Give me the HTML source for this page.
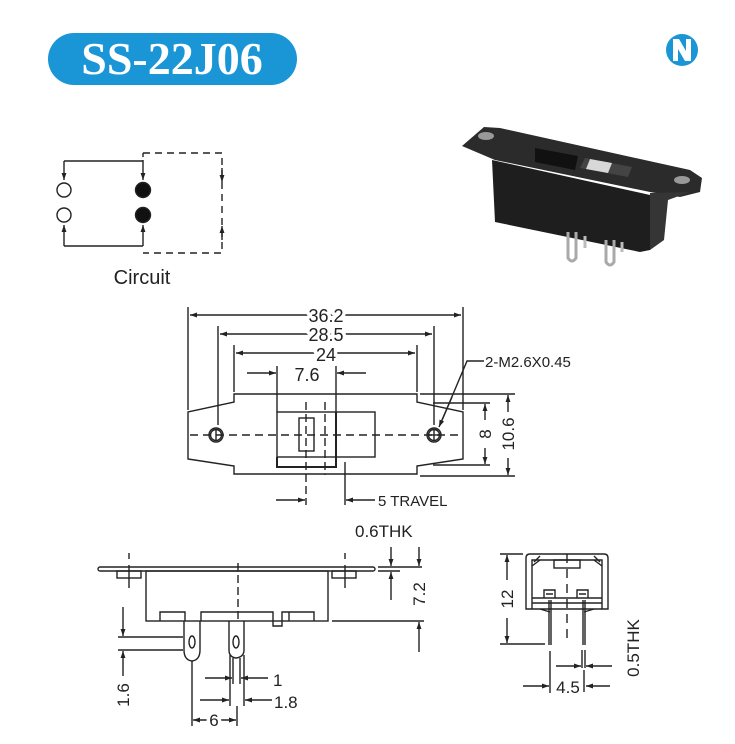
<!DOCTYPE html>
<html><head><meta charset="utf-8"><style>
html,body{margin:0;padding:0;background:#fff;}
svg{display:block;}
text{font-family:"Liberation Sans",Arial,sans-serif;fill:#222;}
.h{stroke:#fff;stroke-width:7px;paint-order:stroke;stroke-linejoin:round;}
</style></head><body>
<svg width="735" height="744" viewBox="0 0 735 744" xmlns="http://www.w3.org/2000/svg">
<defs>
<marker id="a" viewBox="0 0 10 10" refX="10" refY="5" markerWidth="9" markerHeight="7" orient="auto-start-reverse" markerUnits="userSpaceOnUse"><path d="M0,1.5 L10,5 L0,8.5 Z" fill="#222"/></marker>
</defs>
<rect width="735" height="744" fill="#fff"/>
<!-- title -->
<rect x="48" y="33" width="249" height="52" rx="26" fill="#1a96d6"/>
<text x="172" y="74" text-anchor="middle" style="font-family:'Liberation Serif',serif;font-weight:bold;font-size:46px;fill:#fff">SS-22J06</text>
<!-- logo -->
<circle cx="682" cy="50" r="16" fill="#1a96d6"/>
<path d="M673,61 L673,39 L679,39 L686,51 L686,39 L691,39 L691,61 L685,61 L678,49 L678,61 Z" fill="#fff"/>

<g stroke="#222" stroke-width="1.4" fill="none">
<!-- circuit -->
<path d="M64,161 H143 M64,246 H143"/>
<line x1="64" y1="161" x2="64" y2="180" marker-end="url(#a)"/>
<line x1="143" y1="161" x2="143" y2="180" marker-end="url(#a)"/>
<line x1="64" y1="246" x2="64" y2="225" marker-end="url(#a)"/>
<line x1="143" y1="246" x2="143" y2="225" marker-end="url(#a)"/>
<path d="M143,153 H222 V253 H143" stroke-dasharray="7,5"/>
<line x1="143" y1="153" x2="143" y2="161" stroke-dasharray="4,3"/>
<line x1="222" y1="168" x2="222" y2="182" marker-end="url(#a)"/>
<line x1="222" y1="240" x2="222" y2="226" marker-end="url(#a)"/>
<circle cx="64" cy="190" r="7"/><circle cx="64" cy="215" r="7"/>
<circle cx="143" cy="190" r="7.5" fill="#111"/><circle cx="143" cy="215" r="7.5" fill="#111"/>

<!-- top view -->
<path d="M234,394 H417 V402 L463,412 V459 L417,466 V474 H234 V466 L188,459 V412 L234,402 Z"/>
<line x1="188" y1="307" x2="188" y2="410"/><line x1="463" y1="307" x2="463" y2="410"/>
<line x1="218" y1="326" x2="218" y2="425"/><line x1="434" y1="326" x2="434" y2="425"/>
<line x1="234" y1="345" x2="234" y2="392"/><line x1="417" y1="345" x2="417" y2="392"/>
<line x1="277" y1="366" x2="277" y2="412"/><line x1="336" y1="366" x2="336" y2="412"/>
<line x1="190" y1="315" x2="461" y2="315" marker-start="url(#a)" marker-end="url(#a)"/>
<line x1="220" y1="334" x2="432" y2="334" marker-start="url(#a)" marker-end="url(#a)"/>
<line x1="236" y1="353" x2="415" y2="353" marker-start="url(#a)" marker-end="url(#a)"/>
<line x1="247" y1="373" x2="276" y2="373" marker-end="url(#a)"/>
<line x1="366" y1="373" x2="337" y2="373" marker-end="url(#a)"/>
<line x1="190" y1="435" x2="462" y2="435" stroke-dasharray="8,5"/>
<rect x="277" y="412" width="98" height="45"/>
<path d="M277,457 V467 H336 V412" stroke-width="2"/>
<rect x="299" y="418" width="15" height="33"/>
<line x1="306" y1="402" x2="306" y2="505" stroke-dasharray="8,4"/>
<line x1="325" y1="402" x2="325" y2="475" stroke-dasharray="8,4"/>
<line x1="345" y1="462" x2="345" y2="505"/>
<line x1="276" y1="500" x2="305" y2="500" marker-end="url(#a)"/>
<line x1="375" y1="500" x2="346" y2="500" marker-end="url(#a)"/>
<circle cx="216" cy="435" r="7"/><circle cx="216" cy="435" r="5.5"/>
<circle cx="434" cy="435" r="7"/><circle cx="434" cy="435" r="5.5"/>
<line x1="216" y1="430" x2="216" y2="440"/><line x1="434" y1="430" x2="434" y2="440"/>
<line x1="429" y1="435" x2="439" y2="435"/>
<line x1="420" y1="394" x2="515" y2="394"/><line x1="420" y1="476" x2="515" y2="476"/>
<line x1="433" y1="403" x2="490" y2="403"/><line x1="433" y1="465" x2="490" y2="465"/>
<line x1="485" y1="420" x2="485" y2="404" marker-end="url(#a)"/>
<line x1="485" y1="448" x2="485" y2="464" marker-end="url(#a)"/>
<line x1="508" y1="412" x2="508" y2="395" marker-end="url(#a)"/>
<line x1="508" y1="458" x2="508" y2="475" marker-end="url(#a)"/>
<polyline points="484,361 467,361 440,425"/>
<line x1="452" y1="397" x2="439" y2="427" marker-end="url(#a)"/>

<!-- side view -->
<rect x="98" y="567" width="277" height="4" rx="2"/>
<rect x="146" y="571" width="182" height="50"/>
<rect x="117" y="571" width="24" height="7"/><rect x="332" y="571" width="24" height="7"/>
<line x1="129" y1="553" x2="129" y2="559"/><line x1="129" y1="565" x2="129" y2="588"/>
<line x1="345" y1="553" x2="345" y2="559"/><line x1="345" y1="565" x2="345" y2="588"/>
<line x1="238" y1="563" x2="238" y2="620" stroke-dasharray="8,4"/>
<path d="M160,621 V612 H185 V621 M201,621 V612 H273 V626 H282 V612 H314 V621 M289,612 V621"/>
<path d="M184,621 V650 Q184,660 192,661 Q200,660 200,650 V621"/>
<ellipse cx="192" cy="642" rx="3" ry="6"/>
<path d="M229,621 V650 Q229,657 236,658 Q244,657 244,650 V621"/>
<ellipse cx="236" cy="642" rx="3" ry="6"/>
<line x1="233" y1="658" x2="233" y2="684"/><line x1="240" y1="658" x2="240" y2="684"/>
<line x1="230" y1="655" x2="230" y2="706"/><line x1="244" y1="655" x2="244" y2="706"/>
<line x1="192" y1="661" x2="192" y2="726"/><line x1="237" y1="706" x2="237" y2="726"/>
<line x1="118" y1="637" x2="183" y2="637"/><line x1="118" y1="650" x2="183" y2="650"/>
<line x1="123" y1="607" x2="123" y2="636" marker-end="url(#a)"/>
<line x1="123" y1="676" x2="123" y2="651" marker-end="url(#a)"/>
<line x1="205" y1="678" x2="232" y2="678" marker-end="url(#a)"/>
<line x1="268" y1="678" x2="241" y2="678" marker-end="url(#a)"/>
<line x1="200" y1="700" x2="229" y2="700" marker-end="url(#a)"/>
<line x1="272" y1="700" x2="245" y2="700" marker-end="url(#a)"/>
<line x1="193" y1="720" x2="236" y2="720" marker-start="url(#a)" marker-end="url(#a)"/>
<line x1="378" y1="567" x2="422" y2="567"/><line x1="378" y1="571" x2="400" y2="571"/>
<line x1="332" y1="621" x2="424" y2="621"/>
<line x1="391" y1="547" x2="391" y2="566" marker-end="url(#a)"/>
<line x1="391" y1="600" x2="391" y2="572" marker-end="url(#a)"/>
<line x1="419" y1="547" x2="419" y2="566" marker-end="url(#a)"/>
<line x1="419" y1="652" x2="419" y2="622" marker-end="url(#a)"/>

<!-- end view -->
<path d="M526,609 V558 Q526,554 530,554 H604 Q608,554 608,558 V609 Z"/>
<path d="M532,609 V560 H602 V609"/>
<path d="M534,562 L540,556 M600,562 L594,556 M532,566 L540,560 M602,566 L594,560"/>
<rect x="554" y="560" width="26" height="8"/>
<line x1="567" y1="554" x2="567" y2="640" stroke-dasharray="9,6"/>
<path d="M532,598 H602 M532,603 H602 M544,598 V590 H555 V598 M577,598 V590 H588 V598 M546,594 H553 M579,594 H586"/>
<path d="M540,609 L550,612 M594,609 L584,612"/>
<line x1="549" y1="600" x2="549" y2="645"/><line x1="551" y1="600" x2="551" y2="645"/>
<line x1="583" y1="600" x2="583" y2="645"/><line x1="585" y1="600" x2="585" y2="645"/>
<line x1="500" y1="554" x2="523" y2="554"/><line x1="500" y1="644" x2="545" y2="644"/>
<line x1="507" y1="580" x2="507" y2="555" marker-end="url(#a)"/>
<line x1="507" y1="618" x2="507" y2="643" marker-end="url(#a)"/>
<line x1="550" y1="651" x2="550" y2="693"/>
<line x1="582" y1="650" x2="582" y2="668"/><line x1="585" y1="650" x2="585" y2="668"/>
<line x1="556" y1="666" x2="581" y2="666" marker-end="url(#a)"/>
<line x1="612" y1="666" x2="586" y2="666" marker-end="url(#a)"/>
<line x1="523" y1="686" x2="549" y2="686" marker-end="url(#a)"/>
<line x1="610" y1="686" x2="586" y2="686" marker-end="url(#a)"/>
<line x1="584" y1="670" x2="584" y2="692"/>
</g>

<!-- photo -->
<g>
<polygon points="462,146 484,127 500,128 690,170 702,178 700,192 680,197 650,192 495,160" fill="#2b2b2b"/>
<polygon points="492,160 650,195 650,250 640,252 495,222" fill="#1e1e1e"/>
<polygon points="650,193 690,192 668,200 664,240 650,250" fill="#353535"/>
<polygon points="535,148 578,156 575,170 535,162" fill="#111"/>
<polygon points="585,158 632,167 628,177 580,168" fill="#444"/>
<polygon points="590,159 612,163 608,173 586,169" fill="#d8d8d8"/>
<ellipse cx="486" cy="136" rx="8" ry="4" fill="#999"/>
<ellipse cx="682" cy="180" rx="8" ry="4" fill="#999"/>
<path d="M568,232 V258 Q572,264 576,258 V232" stroke="#aaa" stroke-width="3" fill="none"/>
<path d="M606,240 V262 Q610,268 614,262 V240" stroke="#aaa" stroke-width="3" fill="none"/>
<path d="M585,236 V248 M622,242 V252" stroke="#bbb" stroke-width="3"/>
</g>

<text x="142" y="284" text-anchor="middle" style="font-size:20px">Circuit</text>
<text class="h" x="326" y="322" text-anchor="middle" style="font-size:18px">36.2</text>
<text class="h" x="326" y="341" text-anchor="middle" style="font-size:18px">28.5</text>
<text class="h" x="326" y="361" text-anchor="middle" style="font-size:18px">24</text>
<text class="h" x="307" y="381" text-anchor="middle" style="font-size:18px">7.6</text>
<text x="485" y="367" style="font-size:15px">2-M2.6X0.45</text>
<text x="378" y="506" style="font-size:15px">5 TRAVEL</text>
<text class="h" x="485" y="434" text-anchor="middle" transform="rotate(-90 485 434)" dy="6" style="font-size:17px">8</text>
<text class="h" x="508" y="434" text-anchor="middle" transform="rotate(-90 508 434)" dy="6" style="font-size:17px">10.6</text>
<text x="355" y="537" style="font-size:17px">0.6THK</text>
<text class="h" x="419" y="594" text-anchor="middle" transform="rotate(-90 419 594)" dy="6" style="font-size:17px">7.2</text>
<text class="h" x="123" y="695" text-anchor="middle" transform="rotate(-90 123 695)" dy="6" style="font-size:17px">1.6</text>
<text x="273" y="686" style="font-size:17px">1</text>
<text x="274" y="708" style="font-size:17px">1.8</text>
<text class="h" x="214" y="726" text-anchor="middle" style="font-size:17px">6</text>
<text class="h" x="507" y="599" text-anchor="middle" transform="rotate(-90 507 599)" dy="6" style="font-size:17px">12</text>
<text class="h" x="568" y="693" text-anchor="middle" style="font-size:17px">4.5</text>
<text x="633" y="648" text-anchor="middle" transform="rotate(-90 633 648)" dy="6" style="font-size:17px">0.5THK</text>
</svg>
</body></html>
